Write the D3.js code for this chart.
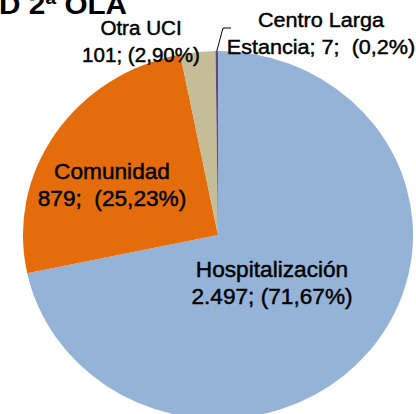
<!DOCTYPE html>
<html>
<head>
<meta charset="utf-8">
<script src="https://cdn.jsdelivr.net/npm/d3@7/dist/d3.min.js"></script>
<style>
	body { margin: 0; background: #fff; }
	svg { display: block; }
	.lbl { font-family: "Liberation Sans", Arial, sans-serif; fill: #000; stroke: #000; stroke-width: 0.45px; }
	.ttl { font-family: "Liberation Sans", Arial, sans-serif; fill: #000; }
</style>
</head>
<body>
<script>
//data for the pie (destination at discharge, 2nd wave)
var categories = ["Hospitalización", "Comunidad", "Otra UCI", "Centro Larga Estancia"];
var values = [2497, 879, 101, 7];
var percents = ["71,67%", "25,23%", "2,90%", "0,2%"];
var valueLabels = ["2.497", "879", "101", "7"];
var colors = ["#95b3d7", "#e46c0a", "#c4bd97", "#604a7b"];

//begin script when window loads
window.onload = setChart();

function setChart(){
	//chart dimensions
	var width = 416,
		height = 414;

	//the picture is slightly stretched sideways
	var stretch = 1.06,
		textStretch = 1.03;

	var svg = d3.select("body")
		.append("svg")
		.attr("width", width)
		.attr("height", height);

	//pie layout, starting at 12 o'clock going clockwise
	var pie = d3.pie()
		.sort(null)
		.value(function(d){ return d; });

	var radius = 184;
	var arc = d3.arc()
		.innerRadius(0)
		.outerRadius(radius);

	var pieGroup = svg.append("g")
		.attr("transform", "translate(218,235) scale(" + stretch + ",1)");

	pieGroup.selectAll(".slice")
		.data(pie(values))
		.enter()
		.append("path")
		.attr("class", "slice")
		.attr("d", arc)
		.attr("fill", function(d, i){ return colors[i]; });

	//title, cut off at the top of the picture
	svg.append("text")
		.attr("class", "ttl")
		.attr("transform", "translate(-1,14) scale(" + stretch + ",1)")
		.attr("font-size", 28)
		.attr("font-weight", "bold")
		.text("D 2ª OLA");

	//data labels: [line1, line2, x center, first baseline, font size]
	var labels = [
		[categories[0], valueLabels[0] + "; (" + percents[0] + ")", 272, 277, 22],
		[categories[1], valueLabels[1] + ";\u00a0 (" + percents[1] + ")", 112, 179, 22],
		[categories[2], valueLabels[2] + "; (" + percents[2] + ")", 141, 35, 20],
		["Centro Larga", "Estancia; " + valueLabels[3] + ";\u00a0 (" + percents[3] + ")", 321, 27, 21]
	];

	labels.forEach(function(l){
		var t = svg.append("text")
			.attr("class", "lbl")
			.attr("text-anchor", "middle")
			.attr("font-size", l[4])
			.attr("transform", "translate(" + l[2] + "," + l[3] + ") scale(" + textStretch + ",1)");
		t.append("tspan").attr("x", 0).attr("y", 0).text(l[0]);
		t.append("tspan").attr("x", 0).attr("y", 27).text(l[1]);
	});

	//leader line for the tiny slice
	var tiny = pie(values)[3];
	var mid = (tiny.startAngle + tiny.endAngle) / 2;
	var x0 = 218 + stretch * radius * Math.sin(mid),
		y0 = 235 - radius * Math.cos(mid);
	svg.append("path")
		.attr("d", "M" + x0 + "," + y0 + "L223,28L231,28")
		.attr("fill", "none")
		.attr("stroke", "#000")
		.attr("stroke-width", 1);
};
</script>
</body>
</html>
